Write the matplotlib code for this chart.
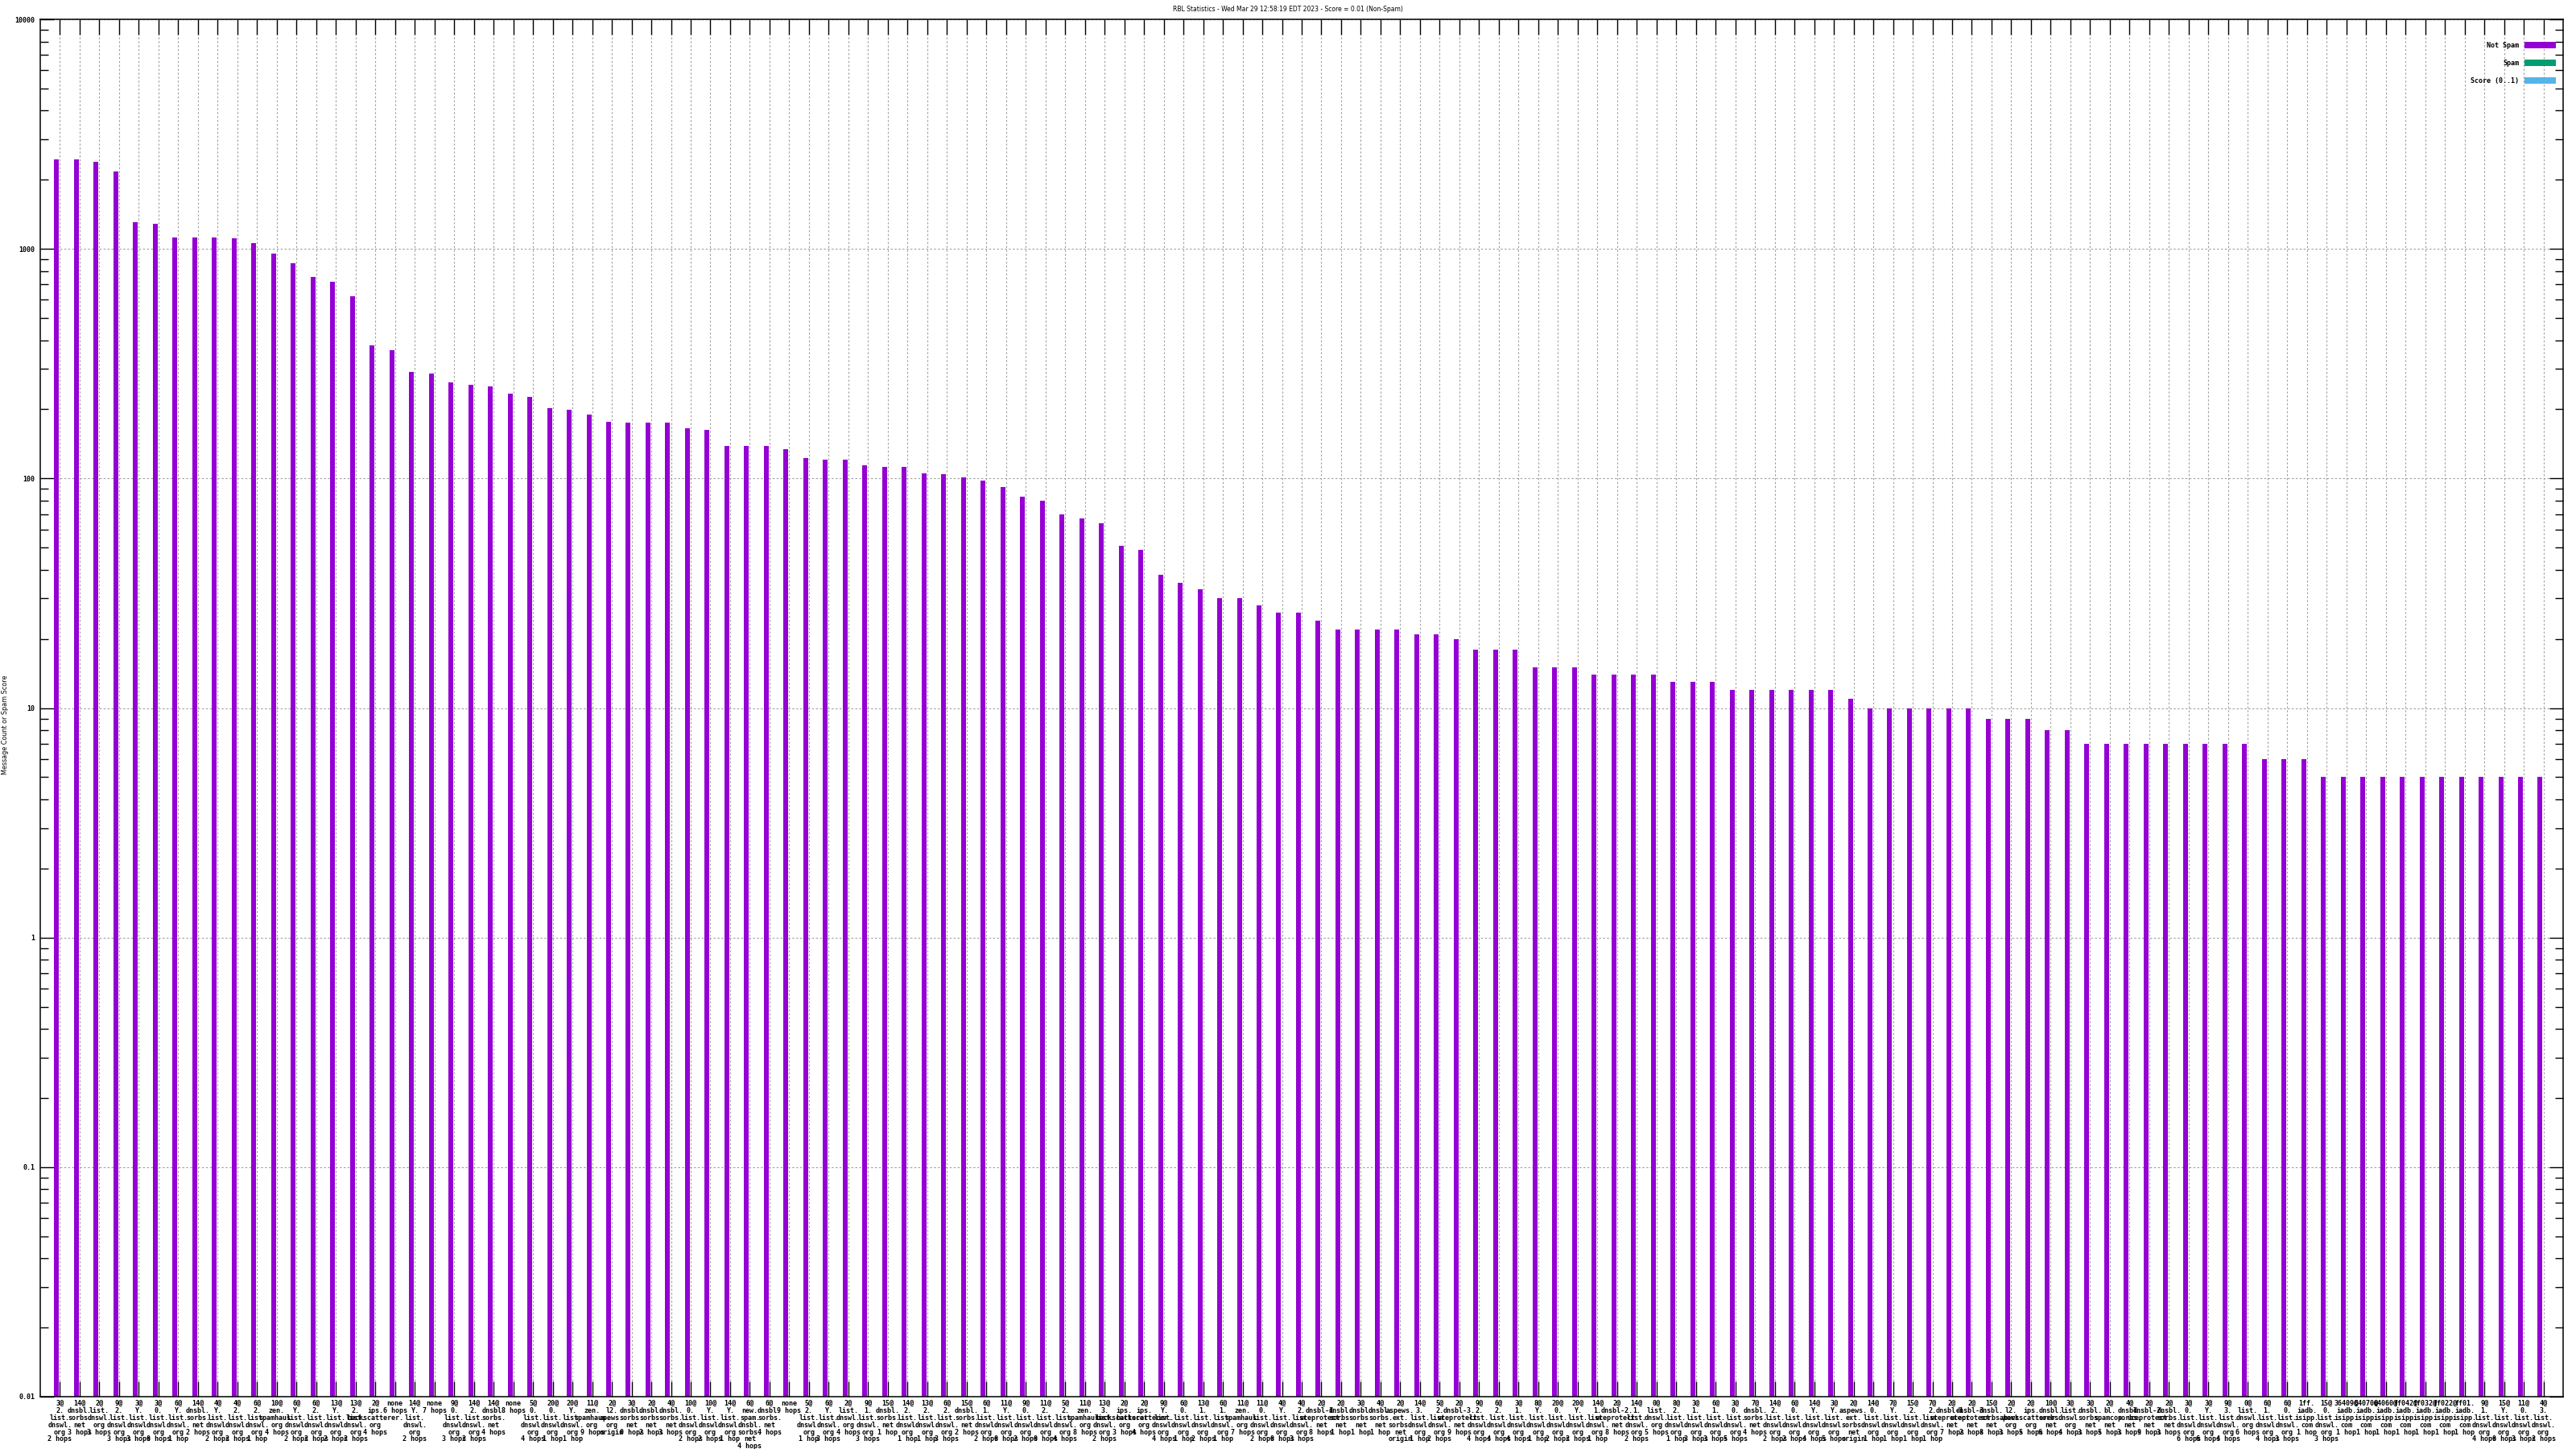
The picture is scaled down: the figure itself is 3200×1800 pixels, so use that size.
import matplotlib
matplotlib.use("Agg")
import matplotlib.pyplot as plt
from matplotlib.ticker import LogLocator, NullFormatter, FixedLocator

TITLE = "RBL Statistics - Wed Mar 29 12:58:19 EDT 2023 - Score = 0.01 (Non-Spam)"

# first line of every x label (result code / "none")
prefixes = [
    "3@", "14@", "2@", "9@", "3@", "3@", "6@", "14@", "4@", "4@",
    "6@", "10@", "6@", "6@", "13@", "13@", "2@", "none", "14@", "none",
    "9@", "14@", "14@", "none", "5@", "20@", "20@", "11@", "2@", "3@",
    "2@", "4@", "10@", "10@", "14@", "6@", "6@", "none", "5@", "6@",
    "2@", "9@", "15@", "14@", "13@", "6@", "15@", "6@", "11@", "9@",
    "11@", "5@", "11@", "13@", "2@", "2@", "9@", "6@", "13@", "6@",
    "11@", "11@", "4@", "4@", "2@", "2@", "3@", "4@", "2@", "14@",
    "5@", "2@", "9@", "6@", "3@", "8@", "20@", "20@", "14@", "2@",
    "14@", "0@", "8@", "3@", "6@", "3@", "7@", "14@", "6@", "14@",
    "3@", "2@", "14@", "7@", "15@", "7@", "2@", "2@", "15@", "2@",
    "2@", "10@", "3@", "3@", "2@", "4@", "2@", "2@", "3@", "3@",
    "9@", "0@", "6@", "6@", "1ff.", "15@", "36409@", "64070@", "64060@", "ff042@",
    "ff032@", "ff022@", "ff01.", "9@", "15@", "11@", "4@",
]

hosts = [
    "2.list.dnswl.org", "dnsbl.sorbs.net", "list.dnswl.org", "2.list.dnswl.org",
    "Y.list.dnswl.org", "0.list.dnswl.org", "Y.list.dnswl.org", "dnsbl.sorbs.net",
    "Y.list.dnswl.org", "2.list.dnswl.org", "2.list.dnswl.org", "zen.spamhaus.org",
    "Y.list.dnswl.org", "2.list.dnswl.org", "Y.list.dnswl.org", "2.list.dnswl.org",
    "ips.backscatterer.org", "", "Y.list.dnswl.org", "",
    "0.list.dnswl.org", "2.list.dnswl.org", "dnsbl.sorbs.net", "",
    "0.list.dnswl.org", "0.list.dnswl.org", "Y.list.dnswl.org", "zen.spamhaus.org",
    "l2.apews.org", "dnsbl.sorbs.net", "dnsbl.sorbs.net", "dnsbl.sorbs.net",
    "0.list.dnswl.org", "Y.list.dnswl.org", "Y.list.dnswl.org", "new.spam.dnsbl.sorbs.net",
    "dnsbl.sorbs.net", "", "2.list.dnswl.org", "Y.list.dnswl.org",
    "list.dnswl.org", "1.list.dnswl.org", "dnsbl.sorbs.net", "2.list.dnswl.org",
    "2.list.dnswl.org", "2.list.dnswl.org", "dnsbl.sorbs.net", "1.list.dnswl.org",
    "Y.list.dnswl.org", "0.list.dnswl.org", "2.list.dnswl.org", "2.list.dnswl.org",
    "zen.spamhaus.org", "3.list.dnswl.org", "ips.backscatterer.org", "ips.backscatterer.org",
    "Y.list.dnswl.org", "0.list.dnswl.org", "1.list.dnswl.org", "1.list.dnswl.org",
    "zen.spamhaus.org", "0.list.dnswl.org", "Y.list.dnswl.org", "2.list.dnswl.org",
    "dnsbl-1.uceprotect.net", "dnsbl.sorbs.net", "dnsbl.sorbs.net", "dnsbl.sorbs.net",
    "aspews.ext.sorbs.net", "3.list.dnswl.org", "2.list.dnswl.org", "dnsbl-3.uceprotect.net",
    "2.list.dnswl.org", "2.list.dnswl.org", "1.list.dnswl.org", "Y.list.dnswl.org",
    "0.list.dnswl.org", "Y.list.dnswl.org", "1.list.dnswl.org", "dnsbl-2.uceprotect.net",
    "1.list.dnswl.org", "list.dnswl.org", "2.list.dnswl.org", "1.list.dnswl.org",
    "1.list.dnswl.org", "0.list.dnswl.org", "dnsbl.sorbs.net", "2.list.dnswl.org",
    "0.list.dnswl.org", "Y.list.dnswl.org", "Y.list.dnswl.org", "aspews.ext.sorbs.net",
    "0.list.dnswl.org", "Y.list.dnswl.org", "2.list.dnswl.org", "2.list.dnswl.org",
    "dnsbl-1.uceprotect.net", "dnsbl-3.uceprotect.net", "dnsbl.sorbs.net", "l2.apews.org",
    "ips.backscatterer.org", "dnsbl.sorbs.net", "list.dnswl.org", "dnsbl.sorbs.net",
    "bl.spamcop.net", "dnsbl.sorbs.net", "dnsbl-2.uceprotect.net", "dnsbl.sorbs.net",
    "0.list.dnswl.org", "Y.list.dnswl.org", "3.list.dnswl.org", "list.dnswl.org",
    "1.list.dnswl.org", "0.list.dnswl.org", "iadb.isipp.com", "0.list.dnswl.org",
    "iadb.isipp.com", "iadb.isipp.com", "iadb.isipp.com", "iadb.isipp.com",
    "iadb.isipp.com", "iadb.isipp.com", "iadb.isipp.com", "1.list.dnswl.org",
    "Y.list.dnswl.org", "0.list.dnswl.org", "3.list.dnswl.org",
]

hops = [
    "2 hops", "3 hops", "3 hops", "3 hops", "3 hops", "0 hops", "1 hop", "2 hops", "2 hops", "2 hops",
    "1 hop", "4 hops", "2 hops", "2 hops", "2 hops", "2 hops", "4 hops", "6 hops", "2 hops", "7 hops",
    "3 hops", "2 hops", "4 hops", "8 hops", "4 hops", "1 hop", "1 hop", "9 hops", "origin", "0 hops",
    "2 hops", "3 hops", "2 hops", "2 hops", "1 hop", "4 hops", "4 hops", "9 hops", "1 hop", "3 hops",
    "4 hops", "3 hops", "1 hop", "1 hop", "1 hop", "3 hops", "2 hops", "2 hops", "0 hops", "2 hops",
    "0 hops", "4 hops", "8 hops", "2 hops", "3 hops", "4 hops", "4 hops", "1 hop", "2 hops", "1 hop",
    "7 hops", "2 hops", "0 hops", "3 hops", "8 hops", "1 hop", "1 hop", "1 hop", "origin", "1 hop",
    "2 hops", "9 hops", "4 hops", "4 hops", "4 hops", "1 hop", "2 hops", "2 hops", "1 hop", "8 hops",
    "2 hops", "5 hops", "1 hop", "3 hops", "3 hops", "5 hops", "4 hops", "2 hops", "2 hops", "4 hops",
    "5 hops", "origin", "1 hop", "1 hop", "1 hop", "1 hop", "7 hops", "2 hops", "8 hops", "3 hops",
    "5 hops", "6 hops", "4 hops", "3 hops", "5 hops", "3 hops", "9 hops", "3 hops", "6 hops", "6 hops",
    "4 hops", "6 hops", "4 hops", "3 hops", "1 hop", "3 hops", "1 hop", "1 hop", "1 hop", "1 hop",
    "1 hop", "1 hop", "1 hop", "4 hops", "0 hops", "3 hops", "2 hops",
]

# message counts per list entry (non-spam)
not_spam = [
    2450, 2450, 2390, 2170, 1306, 1284, 1120, 1120, 1120, 1110,
    1058, 953, 865, 754, 718, 621, 379, 361, 290, 286,
    263, 255, 251, 235, 227, 202, 199, 190, 177, 175,
    175, 175, 166, 163, 139, 139, 139, 134, 123, 121,
    121, 114, 112, 112, 105, 104, 101, 98, 92, 83,
    80, 70, 67, 64, 51, 49, 38, 35, 33, 30,
    30, 28, 26, 26, 24, 22, 22, 22, 22, 21,
    21, 20, 18, 18, 18, 15, 15, 15, 14, 14,
    14, 14, 13, 13, 13, 12, 12, 12, 12, 12,
    12, 11, 10, 10, 10, 10, 10, 10, 9, 9,
    9, 8, 8, 7, 7, 7, 7, 7, 7, 7,
    7, 7, 6, 6, 6, 5, 5, 5, 5, 5,
    5, 5, 5, 5, 5, 5, 5,
]
# no spam hits at all, score sits at the floor of the axis
spam = [0] * len(not_spam)
score = [0.01] * len(not_spam)

COLORS = {"Not Spam": "#9400d3", "Spam": "#009e73", "Score (0..1)": "#56b4e9"}


def make_label(prefix, host, hop):
    # gnuplot-ish stacked label: one dns component per line
    parts = []
    if host:
        bits = host.split(".")
        parts = [b + "." for b in bits[:-1]] + [bits[-1]]
    return "\n".join([prefix] + parts + [hop])


labels = [make_label(p, h, o) for p, h, o in zip(prefixes, hosts, hops)]
x = list(range(len(not_spam)))

plt.rcParams["font.family"] = ["DejaVu Sans Mono"]
plt.rcParams["font.weight"] = "bold"
fig = plt.figure(figsize=(32, 18), dpi=100)
ax = fig.add_axes([50 / 3200, 1 - 1735 / 1800, 3134 / 3200, 1711 / 1800])

w = 0.245
ax.bar([i - 0.165 for i in x], not_spam, width=w, color=COLORS["Not Spam"], label="Not Spam")
ax.bar([i + 0.08 for i in x], spam, width=w, color=COLORS["Spam"], label="Spam")
ax.bar([i + 0.325 for i in x], score, width=w, color=COLORS["Score (0..1)"], label="Score (0..1)")

ax.set_yscale("log")
ax.set_ylim(0.01, 10000)
ax.set_xlim(-1, len(not_spam))

decades = [0.01, 0.1, 1, 10, 100, 1000, 10000]
ax.yaxis.set_major_locator(FixedLocator(decades))
ax.set_yticklabels(["0.01", "0.1", "1", "10", "100", "1000", "10000"])
ax.yaxis.set_minor_locator(LogLocator(base=10, subs=range(2, 10), numticks=20))
ax.yaxis.set_minor_formatter(NullFormatter())

ax.set_xticks(x)
ax.set_xticklabels(labels, fontsize=6, linespacing=0.98, va="top", ha="center")

ax.tick_params(axis="both", which="both", direction="in", top=True, right=True, width=1.0, colors="black")
ax.tick_params(axis="x", which="major", length=13.5, pad=3, labelsize=6)
ax.tick_params(axis="y", which="major", length=12, pad=5, labelsize=6)
ax.tick_params(axis="y", which="minor", length=7)

ax.set_axisbelow(True)
ax.grid(True, which="major", axis="both", color="#a0a0a0", linestyle=(0, (2.2, 2.2)), linewidth=0.8)
for s in ax.spines.values():
    s.set_linewidth(1.1)
    s.set_color("black")

fig.text(0.5, 1 - 12 / 1800, TITLE, ha="center", va="center", fontsize=5.5,
         family="DejaVu Sans", weight="normal")
fig.text(7 / 3200, 0.5, "Message Count or Spam Score", rotation=90, ha="center", va="center",
         fontsize=5.8, family="DejaVu Sans", weight="normal")

leg = ax.legend(loc="upper right", bbox_to_anchor=(0.9982, 0.9858), frameon=False,
                markerfirst=False, fontsize=6, handlelength=4.7, handleheight=1.2,
                labelspacing=1.55, handletextpad=0.8, borderaxespad=0)

fig.savefig("out.png", dpi=100, facecolor="white")
